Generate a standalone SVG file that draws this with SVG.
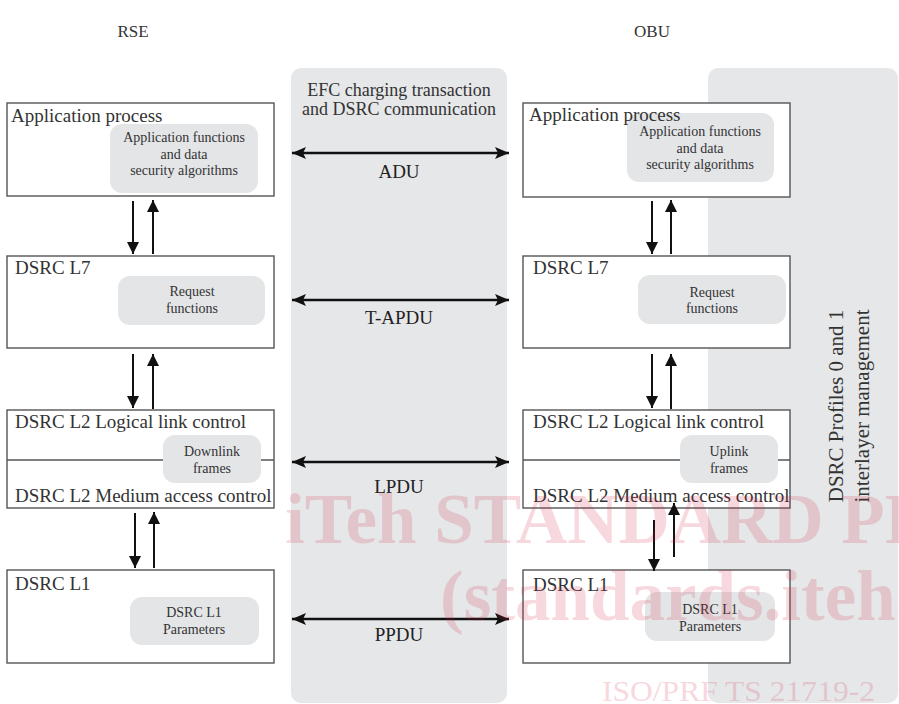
<svg xmlns="http://www.w3.org/2000/svg" width="899" height="704" viewBox="0 0 899 704">
<style>
  .panel { fill: #e6e7e9; }
  .box { fill: #ffffff; stroke: #555555; stroke-width: 1.4; }
  .inner { fill: #e4e5e7; }
  .title { font-family: "Liberation Serif", serif; font-size: 19px; fill: #333333; }
  .small { font-family: "Liberation Serif", serif; font-size: 14px; fill: #333333; text-anchor: middle; }
  .mid { font-family: "Liberation Serif", serif; font-size: 18px; fill: #333333; text-anchor: middle; }
  .pdu { font-family: "Liberation Serif", serif; font-size: 19px; fill: #222222; text-anchor: middle; }
  .head { font-family: "Liberation Serif", serif; font-size: 17px; fill: #333333; text-anchor: middle; }
  .side { font-family: "Liberation Serif", serif; font-size: 21px; fill: #333333; text-anchor: middle; }
  .conn { stroke: #111111; stroke-width: 2; fill: none; }
  .hconn { stroke: #111111; stroke-width: 2.5; fill: none; }
  .wm { font-family: "Liberation Serif", serif; fill: #d3213f; opacity: 0.17; }
</style>
<defs>
  <marker id="ah" viewBox="0 0 12 12" refX="12" refY="6" markerWidth="12" markerHeight="12" markerUnits="userSpaceOnUse" orient="auto-start-reverse">
    <path d="M0,0 L12,6 L0,12 z" fill="#111111"/>
  </marker>
  <marker id="ah2" viewBox="0 0 14 12" refX="14" refY="6" markerWidth="14" markerHeight="12" markerUnits="userSpaceOnUse" orient="auto-start-reverse">
    <path d="M0,0 L14,6 L0,12 L3,6 z" fill="#111111"/>
  </marker>
</defs>

<rect x="0" y="0" width="899" height="704" fill="#ffffff"/>

<g id="header-rse"><text class="head" x="133" y="37">RSE</text></g>
<g id="header-obu"><text class="head" x="652" y="37">OBU</text></g>

<g id="center-panel">
  <rect class="panel" x="291" y="68" width="216" height="635" rx="10"/>
  <text class="mid" x="399" y="96">EFC charging transaction</text>
  <text class="mid" x="399" y="115">and DSRC communication</text>
</g>

<g id="side-panel">
  <rect class="panel" x="708" y="68" width="190" height="635" rx="10"/>
  <text class="side" transform="translate(843,406) rotate(-90)">DSRC Profiles 0 and 1</text>
  <text class="side" transform="translate(869,406) rotate(-90)">interlayer management</text>
</g>

<!-- RSE side -->
<g id="rse-app">
  <rect class="box" x="7" y="103" width="267" height="93"/>
  <rect class="inner" x="110" y="124" width="148" height="69" rx="12"/>
  <text class="title" x="11" y="122">Application process</text>
  <text class="small" x="184" y="142">Application functions</text>
  <text class="small" x="184" y="159">and data</text>
  <text class="small" x="184" y="175">security algorithms</text>
</g>
<g id="rse-l7">
  <rect class="box" x="7" y="256" width="267" height="92"/>
  <text class="title" x="15" y="274">DSRC L7</text>
  <rect class="inner" x="118" y="276" width="147" height="49" rx="12"/>
  <text class="small" x="192" y="296">Request</text>
  <text class="small" x="192" y="313">functions</text>
</g>
<g id="rse-l2">
  <rect class="box" x="7" y="410" width="267" height="98"/>
  <line x1="7" y1="460" x2="274" y2="460" stroke="#555555" stroke-width="1.4"/>
  <text class="title" x="15" y="428">DSRC L2 Logical link control</text>
  <text class="title" x="15" y="502">DSRC L2 Medium access control</text>
  <rect class="inner" x="163" y="435" width="98" height="48" rx="12"/>
  <text class="small" x="212" y="456">Downlink</text>
  <text class="small" x="212" y="473">frames</text>
</g>
<g id="rse-l1">
  <rect class="box" x="7" y="570" width="267" height="93"/>
  <text class="title" x="15" y="590">DSRC L1</text>
  <rect class="inner" x="130" y="597" width="129" height="48" rx="12"/>
  <text class="small" x="194" y="617">DSRC L1</text>
  <text class="small" x="194" y="634">Parameters</text>
</g>

<!-- OBU side -->
<g id="obu-app">
  <rect class="box" x="523" y="103" width="267" height="94"/>
  <rect class="inner" x="627" y="113" width="147" height="69" rx="12"/>
  <text class="title" x="529" y="121">Application process</text>
  <text class="small" x="700" y="136">Application functions</text>
  <text class="small" x="700" y="153">and data</text>
  <text class="small" x="700" y="169">security algorithms</text>
</g>
<g id="obu-l7">
  <rect class="box" x="523" y="256" width="267" height="92"/>
  <text class="title" x="533" y="274">DSRC L7</text>
  <rect class="inner" x="638" y="275" width="148" height="49" rx="12"/>
  <text class="small" x="712" y="297">Request</text>
  <text class="small" x="712" y="313">functions</text>
</g>
<g id="obu-l2">
  <rect class="box" x="523" y="410" width="267" height="98"/>
  <line x1="523" y1="460" x2="790" y2="460" stroke="#555555" stroke-width="1.4"/>
  <text class="title" x="533" y="428">DSRC L2 Logical link control</text>
  <text class="title" x="533" y="502">DSRC L2 Medium access control</text>
  <rect class="inner" x="680" y="435" width="98" height="48" rx="12"/>
  <text class="small" x="729" y="456">Uplink</text>
  <text class="small" x="729" y="473">frames</text>
</g>
<g id="obu-l1">
  <rect class="box" x="523" y="570" width="267" height="93"/>
  <text class="title" x="533" y="591">DSRC L1</text>
  <rect class="inner" x="645" y="592" width="130" height="49" rx="12"/>
  <text class="small" x="710" y="614">DSRC L1</text>
  <text class="small" x="710" y="631">Parameters</text>
</g>

<!-- connectors -->
<g id="connectors">
  <line class="hconn" x1="292" y1="153" x2="509" y2="153" marker-start="url(#ah2)" marker-end="url(#ah2)"/>
  <line class="hconn" x1="292" y1="300" x2="509" y2="300" marker-start="url(#ah2)" marker-end="url(#ah2)"/>
  <line class="hconn" x1="292" y1="462" x2="509" y2="462" marker-start="url(#ah2)" marker-end="url(#ah2)"/>
  <line class="hconn" x1="292" y1="619" x2="509" y2="619" marker-start="url(#ah2)" marker-end="url(#ah2)"/>

  <line class="conn" x1="133" y1="201" x2="133" y2="254" marker-end="url(#ah)"/>
  <line class="conn" x1="153" y1="254" x2="153" y2="200" marker-end="url(#ah)"/>
  <line class="conn" x1="133" y1="354" x2="133" y2="408" marker-end="url(#ah)"/>
  <line class="conn" x1="153" y1="409" x2="153" y2="354" marker-end="url(#ah)"/>
  <line class="conn" x1="135" y1="513" x2="135" y2="568" marker-end="url(#ah)"/>
  <line class="conn" x1="154" y1="568" x2="154" y2="512" marker-end="url(#ah)"/>

  <line class="conn" x1="652" y1="201" x2="652" y2="254" marker-end="url(#ah)"/>
  <line class="conn" x1="671" y1="254" x2="671" y2="200" marker-end="url(#ah)"/>
  <line class="conn" x1="652" y1="354" x2="652" y2="408" marker-end="url(#ah)"/>
  <line class="conn" x1="671" y1="409" x2="671" y2="354" marker-end="url(#ah)"/>
  <line class="conn" x1="654" y1="520" x2="654" y2="571" marker-end="url(#ah)"/>
  <line class="conn" x1="674" y1="557" x2="674" y2="503" marker-end="url(#ah)"/>
</g>

<g id="pdu-labels">
  <text class="pdu" x="399" y="178">ADU</text>
  <text class="pdu" x="399" y="324">T-APDU</text>
  <text class="pdu" x="399" y="493">LPDU</text>
  <text class="pdu" x="399" y="641">PPDU</text>
</g>

<g id="watermark">
  <text class="wm" x="285" y="543" font-size="71" font-weight="bold">iTeh STANDARD PREVIEW</text>
  <text class="wm" x="440" y="620" font-size="71" font-weight="bold">(standards.iteh.ai)</text>
  <text class="wm" x="602" y="701" font-size="29" textLength="273" lengthAdjust="spacingAndGlyphs">ISO/PRF TS 21719-2</text>
</g>
</svg>
